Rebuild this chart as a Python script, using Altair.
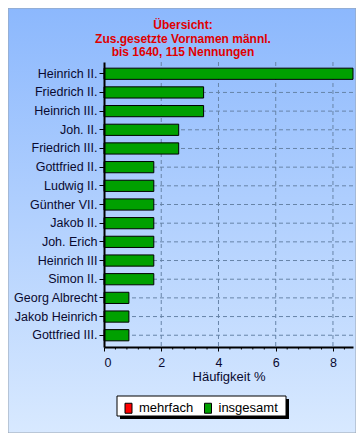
import altair as alt
import pandas as pd

# ---- data ----
names = ["Heinrich II.", "Friedrich II.", "Heinrich III.", "Joh. II.", "Friedrich III.",
         "Gottfried II.", "Ludwig II.", "Günther VII.", "Jakob II.", "Joh. Erich",
         "Heinrich III", "Simon II.", "Georg Albrecht", "Jakob Heinrich", "Gottfried III."]
insgesamt = [8.7, 3.48, 3.48, 2.61, 2.61,
             1.74, 1.74, 1.74, 1.74, 1.74,
             1.74, 1.74, 0.87, 0.87, 0.87]
series = ["mehrfach", "insgesamt"]
series_colors = ["#ff0000", "#00a000"]
x_major = [0, 2, 4, 6, 8]
x_minor = [0.4, 0.8, 1.2, 1.6, 2.4, 2.8, 3.2, 3.6, 4.4, 4.8, 5.2, 5.6,
           6.4, 6.8, 7.2, 7.6, 8.4]
title_lines = ["Übersicht:", "Zus.gesetzte Vornamen männl.", "bis 1640, 115 Nennungen"]
x_title = "Häufigkeit %"

FONT = "Arial, Liberation Sans, sans-serif"
W, H = 249, 285

df = pd.DataFrame({"name": names, "wert": insgesamt, "serie": "insgesamt"})
one = pd.DataFrame({"a": [0]})

xscale = alt.Scale(domain=[0, 8.7], nice=False, zero=True)
yscale = alt.Scale(domain=names, paddingInner=0.4, paddingOuter=0.33)

grad = alt.LinearGradient(
    gradient="linear", x1=0, y1=0, x2=0, y2=1,
    stops=[alt.GradientStop(color="#8cb8fd", offset=0),
           alt.GradientStop(color="#d8e9ff", offset=1)])

bg = alt.Chart(one).mark_rect(fill=grad, stroke="#9aa4b0", strokeWidth=1).encode(
    x=alt.value(-96), x2=alt.value(252), y=alt.value(-54), y2=alt.value(371))

title = alt.Chart(one).mark_text(
    font=FONT, fontSize=12, fontWeight="bold", color="#e00000",
    align="center", baseline="top", lineHeight=13.5).encode(
    x=alt.value(79), y=alt.value(-42), text=alt.value(title_lines))

shadow = alt.Chart(one).mark_rect(fill="#000000").encode(
    x=alt.value(16), x2=alt.value(185), y=alt.value(337), y2=alt.value(357))
box = alt.Chart(one).mark_rect(fill="#ffffff", stroke="#000000", strokeWidth=1).encode(
    x=alt.value(13), x2=alt.value(182), y=alt.value(334), y2=alt.value(354))

vgrid = alt.Chart(pd.DataFrame({"v": x_major[1:]})).mark_rule(
    color="#6784a8", strokeDash=[4, 3], strokeWidth=1).encode(
    x=alt.X("v:Q", scale=xscale))

hgrid = alt.Chart(df).mark_rule(
    color="#6784a8", strokeDash=[4, 3], strokeWidth=1).encode(
    y=alt.Y("name:N", scale=yscale, sort=names, bandPosition=0.5))

bars = alt.Chart(df).mark_bar(stroke="#000000", strokeWidth=1, opacity=1).encode(
    x=alt.X("wert:Q", scale=xscale,
            axis=alt.Axis(values=x_major, title=x_title, grid=False, zindex=1,
                          domainColor="#000000", domainWidth=2,
                          tickColor="#000000", tickSize=4, labelPadding=5,
                          labelFont=FONT, labelFontSize=12.5, labelColor="#0a0a30",
                          titleFont=FONT, titleFontSize=13, titleFontWeight="normal",
                          titleColor="#0a0a30", titleBaseline="top", titleY=23.5)),
    y=alt.Y("name:N", scale=yscale, sort=names,
            axis=alt.Axis(title=None, grid=False, zindex=1,
                          domainColor="#000000", domainWidth=2,
                          tickColor="#000000", tickSize=5, labelPadding=2,
                          labelFont=FONT, labelFontSize=12.5, labelColor="#0a0a30",
                          labelLimit=200)),
    color=alt.Color("serie:N",
                    scale=alt.Scale(domain=series, range=series_colors),
                    legend=alt.Legend(orient="none", legendX=18, legendY=339.5,
                                      direction="horizontal", title=None, padding=0,
                                      symbolType="M-0.7,-1V1H0.7V-1Z", symbolSize=100,
                                      symbolStrokeColor="#000000", symbolStrokeWidth=1,
                                      symbolOpacity=1, labelFont=FONT, labelFontSize=13,
                                      labelColor="#000000", labelOffset=4,
                                      columnPadding=7.5, zindex=1)),
)

minor = alt.Chart(pd.DataFrame({"m": x_minor})).mark_rule(
    color="#000000", strokeWidth=1).encode(
    x=alt.X("m:Q", scale=xscale), y=alt.value(H), y2=alt.value(H + 2.5))

chart = alt.layer(bg, title, shadow, box, vgrid, hgrid, bars, minor).properties(
    width=W, height=H,
    autosize=alt.AutoSizeParams(type="none"),
    padding={"left": 96, "top": 54, "right": 3, "bottom": 86},
).configure_view(stroke="#000000", strokeWidth=1, fill=None)

chart.save("out.html", embed_options={"renderer": "svg", "actions": False})
